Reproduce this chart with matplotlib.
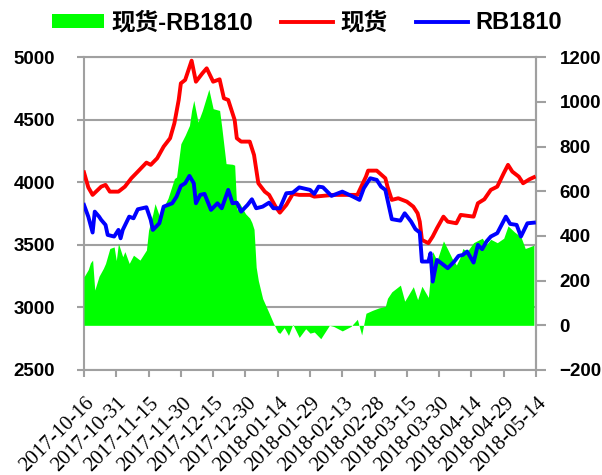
import matplotlib
matplotlib.use('Agg')
import matplotlib.pyplot as plt
import matplotlib.dates as mdates
from matplotlib.patches import Patch
from matplotlib.lines import Line2D
from matplotlib.font_manager import FontProperties
from matplotlib.transforms import ScaledTranslation
import pandas as pd

# day offsets counted from 2017-10-16
start = pd.Timestamp('2017-10-16')
end = pd.Timestamp('2018-05-14')

spot_day = [0, 2, 4, 8, 10, 12, 16, 19, 22, 25, 29, 31, 34, 37, 40, 42, 44, 45, 47, 50,
            52, 55, 57, 60, 63, 65, 67, 70, 71, 73, 77, 79, 81, 84, 86, 89, 91, 94, 97, 100,
            105, 107, 116, 127, 131, 132, 136, 140, 141, 143, 146, 150, 153, 155, 156, 157, 160, 162, 164, 167,
            169, 173, 175, 181, 183, 186, 189, 192, 195, 197, 199, 202, 204, 207, 209]
spot = [4080, 3960, 3900, 3966, 3980, 3926, 3926, 3966, 4033, 4086, 4158, 4140, 4193, 4286, 4353, 4473, 4659, 4792, 4819, 4973,
        4805, 4872, 4912, 4805, 4824, 4672, 4659, 4499, 4353, 4326, 4326, 4219, 3993, 3926, 3900, 3806, 3758, 3820, 3908, 3900,
        3900, 3886, 3900, 3900, 4046, 4094, 4094, 4033, 3966, 3860, 3873, 3846, 3806, 3753, 3686, 3540, 3514, 3567, 3634, 3726,
        3686, 3673, 3740, 3726, 3833, 3865, 3940, 3966, 4073, 4140, 4086, 4046, 3993, 4025, 4041]

fut_day = [0, 2, 4, 5, 7, 8, 10, 11, 14, 16, 17, 18, 21, 23, 25, 29, 31, 32, 35, 37,
           41, 43, 45, 47, 49, 51, 52, 54, 56, 59, 62, 64, 67, 69, 71, 73, 76, 78, 80, 83,
           86, 88, 91, 94, 97, 100, 105, 107, 109, 111, 115, 120, 125, 128, 130, 133, 136, 138, 140, 143,
           147, 149, 152, 154, 156, 157, 160, 161, 162, 164, 166, 169, 172, 174, 176, 178, 181, 183, 185, 187,
           189, 192, 194, 196, 198, 201, 203, 206, 209]
fut = [3820, 3726, 3599, 3766, 3726, 3700, 3660, 3580, 3567, 3620, 3553, 3620, 3726, 3713, 3785, 3801, 3700, 3620, 3673, 3806,
       3833, 3886, 3972, 3993, 4052, 3993, 3833, 3900, 3908, 3780, 3833, 3793, 3940, 3833, 3838, 3766, 3820, 3865, 3793, 3806,
       3838, 3793, 3793, 3913, 3918, 3960, 3940, 3908, 3966, 3961, 3892, 3926, 3886, 3860, 3953, 4033, 4020, 3966, 3940, 3706,
       3694, 3753, 3686, 3626, 3599, 3367, 3367, 3434, 3207, 3380, 3354, 3314, 3367, 3412, 3420, 3447, 3359, 3500, 3466, 3527,
       3567, 3594, 3660, 3726, 3668, 3660, 3567, 3673, 3678]

basis_day = [0, 2, 3, 4, 5, 7, 9, 10, 12, 14, 15, 16, 18, 19, 21, 23, 26, 29, 30, 32,
             33, 35, 37, 39, 42, 43, 45, 47, 49, 50, 51, 53, 55, 58, 60, 63, 64, 66, 69, 70,
             71, 72, 75, 77, 78, 79, 80, 81, 83, 86, 88, 90, 91, 93, 95, 97, 100, 103, 105, 107,
             110, 112, 114, 116, 120, 124, 127, 129, 131, 134, 137, 140, 141, 143, 147, 149, 153, 155, 157, 160,
             162, 164, 167, 169, 171, 173, 175, 176, 178, 181, 185, 187, 189, 192, 195, 197, 200, 203, 205, 207,
             209]
basis = [217, 250, 280, 292, 158, 220, 255, 277, 344, 351, 290, 367, 307, 330, 277, 314, 292, 337, 426, 500,
         545, 490, 530, 568, 657, 664, 813, 851, 895, 962, 1007, 910, 962, 1057, 970, 962, 888, 724, 721, 717,
         515, 552, 500, 480, 460, 430, 260, 200, 120, 55, 10, -30, -36, -10, -45, 5, -54, -15, -35, -30,
         -60, -30, 0, -5, -25, -5, 27, -43, 54, 67, 78, 85, 121, 150, 180, 108, 173, 115, 175, 125,
         330, 290, 378, 340, 300, 270, 310, 344, 330, 370, 390, 362, 385, 370, 390, 445, 418, 396, 344, 351,
         359]


def to_dates(days):
    return start + pd.to_timedelta(days, unit='D')


tick_dates = pd.date_range(start, end, freq='15D')
grey = '#a0a0a0'
tick_font = FontProperties(family='Liberation Sans', weight='bold', size=13.5)
date_font = FontProperties(family='Liberation Serif', size=15)
legend_font = FontProperties(family=['Liberation Sans', 'Noto Sans CJK SC'], weight='bold', size=17)

fig = plt.figure(figsize=(6.02, 4.75), dpi=100)
ax = fig.add_axes([84 / 602, 1 - 370 / 475, (536 - 84) / 602, (370 - 57.3) / 475])

# left axis: grid only
ax.set_xlim(start, end)
ax.set_ylim(2500, 5000)
ax.set_yticks(range(2500, 5001, 500))
ax.grid(axis='y', color=grey, lw=1.5)
ax.set_xticks(tick_dates)
ax.xaxis.set_major_formatter(mdates.DateFormatter('%Y-%m-%d'))
for s in ax.spines.values():
    s.set_color(grey)
    s.set_linewidth(1.5)
ax.tick_params(axis='both', color=grey, width=1.5, length=5)
ax.tick_params(axis='y', pad=16)
ax.tick_params(axis='x', pad=12)
for lab in ax.get_yticklabels():
    lab.set_fontproperties(tick_font)
for lab in ax.get_xticklabels():
    lab.set_fontproperties(date_font)
    lab.set_rotation(45)
    lab.set_ha('right')
    lab.set_va('top')
    lab.set_rotation_mode('anchor')
    lab.set_transform(lab.get_transform() + ScaledTranslation(1 / 100, 0, fig.dpi_scale_trans))

# right axis: basis area
ax2 = ax.twinx()
ax2.set_ylim(-200, 1200)
ax2.set_yticks(range(-200, 1201, 200))
ax2.fill_between(to_dates(basis_day), 0, basis, color='#00ff00', lw=0)
for s in ax2.spines.values():
    s.set_visible(False)
ax2.spines['right'].set_visible(True)
ax2.spines['right'].set_color(grey)
ax2.spines['right'].set_linewidth(1.5)
ax2.tick_params(axis='y', color=grey, width=1.5, length=7, pad=10)
for lab in ax2.get_yticklabels():
    lab.set_fontproperties(tick_font)

# lines on top, left scale
ax3 = ax.twinx()
ax3.set_ylim(2500, 5000)
ax3.set_axis_off()
ax3.plot(to_dates(spot_day), spot, color='#ff0000', lw=2.8)
ax3.plot(to_dates(fut_day), fut, color='#0000ff', lw=2.8)
ax3.set_xlim(start, end)

handles = [Patch(facecolor='#00ff00', edgecolor='none'),
           Line2D([], [], color='#ff0000', lw=2.8),
           Line2D([], [], color='#0000ff', lw=2.8)]
fig.legend(handles, ['现货-RB1810', '现货', 'RB1810'], loc='center', bbox_to_anchor=(0.51, 0.952),
           ncol=3, frameon=False, prop=legend_font, handlelength=2.2, handleheight=0.55,
           handletextpad=0.3, columnspacing=1.2)

fig.savefig('out.png', dpi=100)
